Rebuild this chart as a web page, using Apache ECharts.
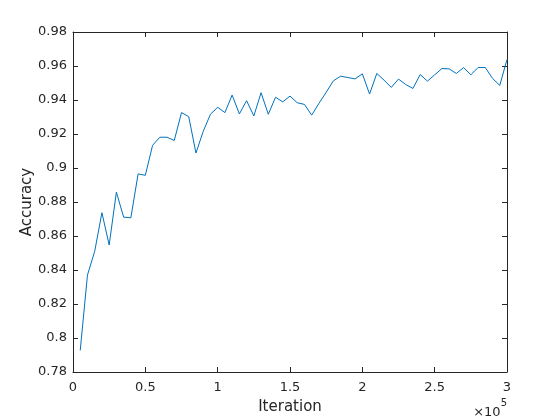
<!DOCTYPE html>
<html>
<head>
<meta charset="utf-8">
<script src="https://cdn.jsdelivr.net/npm/echarts@6/dist/echarts.min.js"></script>
<style>
    html, body { margin: 0; padding: 0; background: #fff; }
    #chart { width: 560px; height: 420px; }
</style>
</head>
<body>
<div id="chart"></div>
<script>
const iterations = [
    5000, 10000, 15000, 20000, 25000, 30000, 35000, 40000, 45000, 50000,
    55000, 60000, 65000, 70000, 75000, 80000, 85000, 90000, 95000, 100000,
    105000, 110000, 115000, 120000, 125000, 130000, 135000, 140000, 145000, 150000,
    155000, 160000, 165000, 170000, 175000, 180000, 185000, 190000, 195000, 200000,
    205000, 210000, 215000, 220000, 225000, 230000, 235000, 240000, 245000, 250000,
    255000, 260000, 265000, 270000, 275000, 280000, 285000, 290000, 295000, 300000
];
const accuracy = [
    0.7927, 0.8370, 0.8510, 0.8737, 0.8547, 0.8858, 0.8711, 0.8707, 0.8965, 0.8957,
    0.9133, 0.9181, 0.9181, 0.9162, 0.9326, 0.9302, 0.9088, 0.9215, 0.9316, 0.9357,
    0.9326, 0.9429, 0.9318, 0.9396, 0.9306, 0.9443, 0.9316, 0.9416, 0.9389, 0.9423,
    0.9384, 0.9374, 0.9311, 0.9380, 0.9445, 0.9513, 0.9540, 0.9532, 0.9524, 0.9554,
    0.9435, 0.9556, 0.9517, 0.9474, 0.9523, 0.9491, 0.9468, 0.9550, 0.9511, 0.9548,
    0.9585, 0.9583, 0.9556, 0.9591, 0.9548, 0.9591, 0.9591, 0.9527, 0.9486, 0.9638
];
const xTickLabels = ['0', '0.5', '1', '1.5', '2', '2.5', '3'];
const yTickLabels = ['0.78', '0.8', '0.82', '0.84', '0.86', '0.88', '0.9', '0.92', '0.94', '0.96', '0.98'];

const axisColor = '#262626';
const font = 'DejaVu Sans';

const chart = echarts.init(document.getElementById('chart'), null, { renderer: 'canvas' });

// shared look for the four sides of the box
const boxAxis = {
    axisLine: { show: true, onZero: false, lineStyle: { color: axisColor, width: 1 } },
    axisTick: { show: true, inside: true, length: 5, lineStyle: { color: axisColor } },
    splitLine: { show: false }
};

const options = {
    backgroundColor: '#fff',
    animation: false,
    textStyle: { fontFamily: font },
    grid: { left: 73, right: 53, top: 32, bottom: 47 },
    xAxis: [
        Object.assign({
            type: 'value',
            min: 0,
            max: 300000,
            interval: 50000,
            position: 'bottom',
            name: 'Iteration',
            nameLocation: 'middle',
            nameGap: 28,
            nameMoveOverlap: false,
            nameTextStyle: { fontSize: 15, color: axisColor, fontFamily: font },
            axisLabel: {
                margin: 9,
                fontSize: 13,
                color: axisColor,
                fontFamily: font,
                formatter: function(v) { return xTickLabels[Math.round(v / 50000)]; }
            }
        }, boxAxis),
        Object.assign({
            type: 'value',
            min: 0,
            max: 300000,
            interval: 50000,
            position: 'top',
            axisLabel: { show: false }
        }, boxAxis)
    ],
    yAxis: [
        Object.assign({
            type: 'value',
            min: 0.78,
            max: 0.98,
            interval: 0.02,
            position: 'left',
            name: 'Accuracy',
            nameLocation: 'middle',
            nameGap: 38,
            nameMoveOverlap: false,
            nameTextStyle: { fontSize: 15, color: axisColor, fontFamily: font },
            axisLabel: {
                margin: 6,
                fontSize: 13,
                color: axisColor,
                fontFamily: font,
                formatter: function(v) { return yTickLabels[Math.round((v - 0.78) / 0.02)]; }
            }
        }, boxAxis),
        Object.assign({
            type: 'value',
            min: 0.78,
            max: 0.98,
            interval: 0.02,
            position: 'right',
            axisLabel: { show: false }
        }, boxAxis)
    ],
    graphic: [{
        type: 'text',
        right: 53,
        top: 398,
        style: {
            text: '{a|×10}{b|5}',
            fill: axisColor,
            rich: {
                a: { fontSize: 13, fontFamily: font, color: axisColor, verticalAlign: 'bottom', padding: [8, 0, 0, 0] },
                b: { fontSize: 10, fontFamily: font, color: axisColor, verticalAlign: 'top' }
            }
        }
    }],
    series: [{
        type: 'line',
        xAxisIndex: 0,
        yAxisIndex: 0,
        data: iterations.map((x, i) => [x, accuracy[i]]),
        symbol: 'none',
        lineStyle: { color: '#0072BD', width: 1 },
        itemStyle: { color: '#0072BD' }
    }]
};

chart.setOption(options);
</script>
</body>
</html>
